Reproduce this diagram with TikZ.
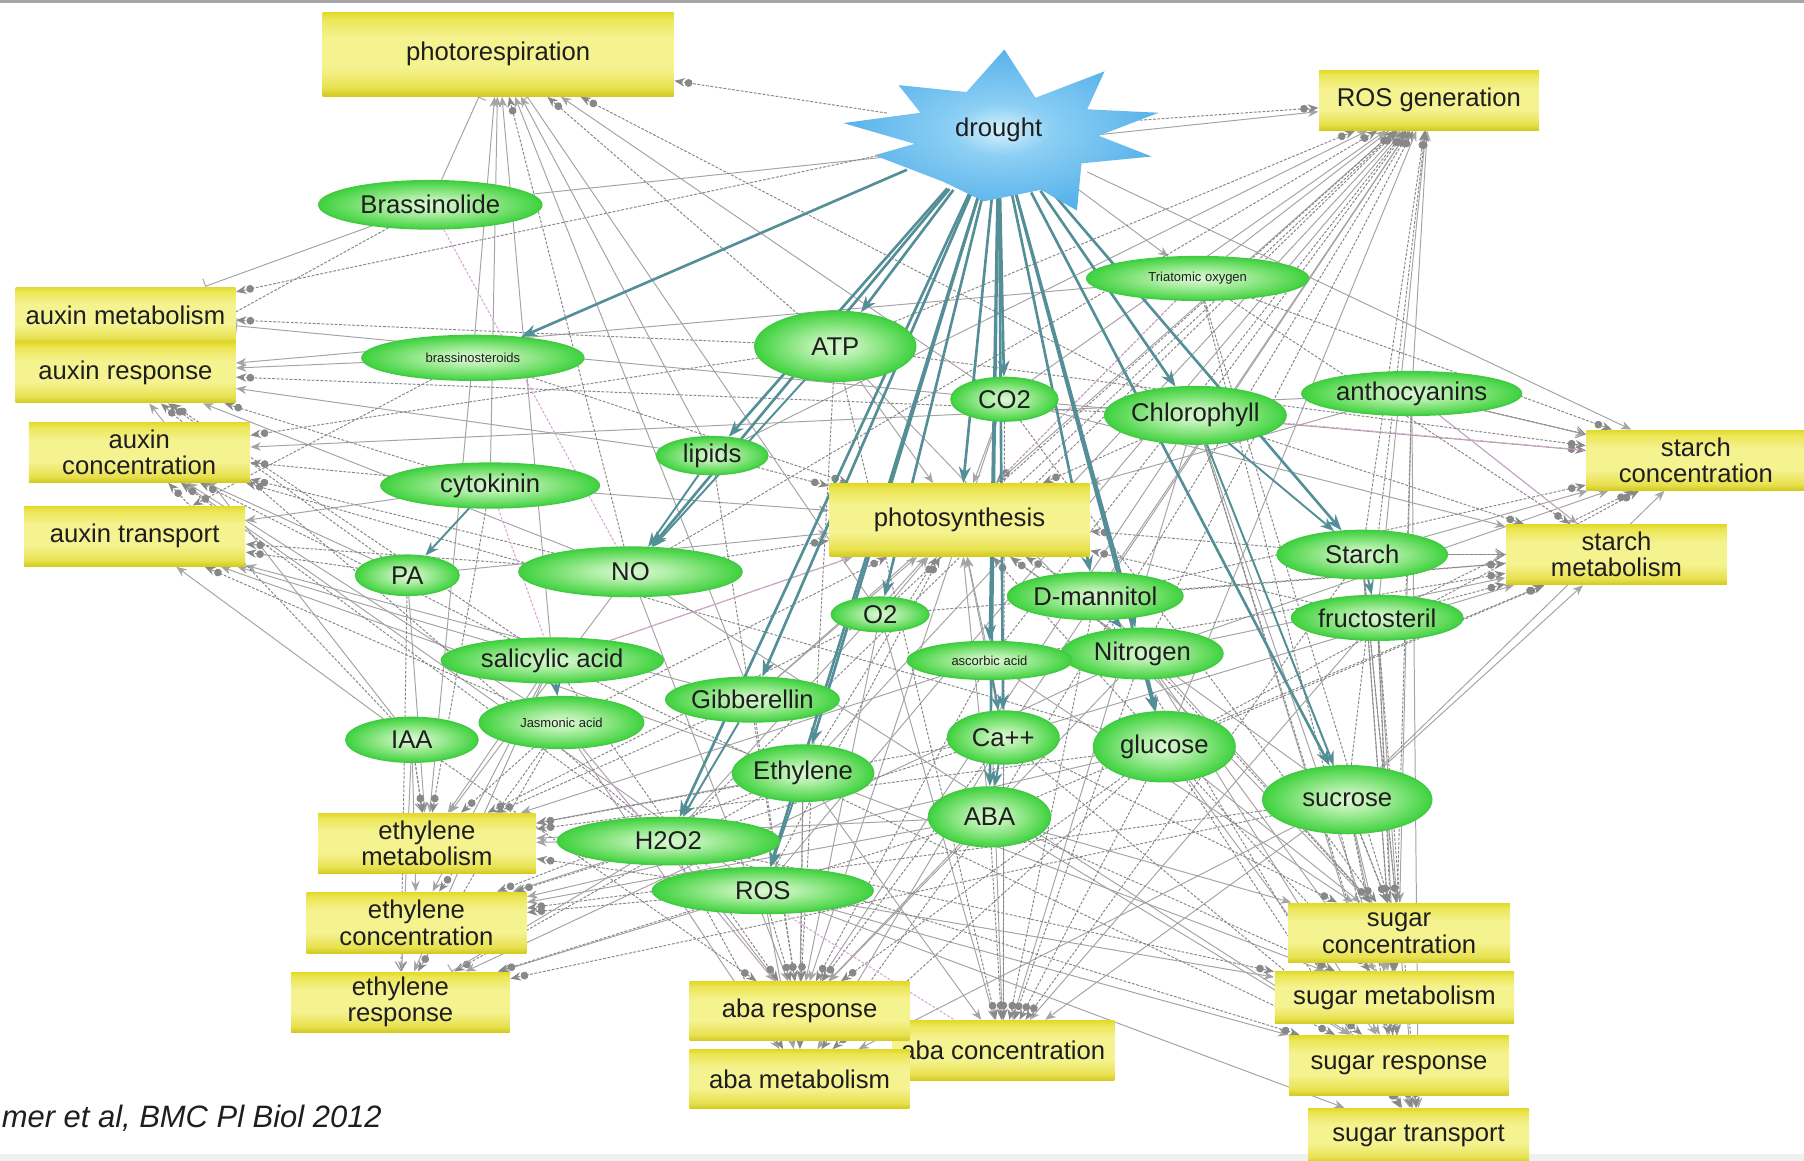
\documentclass[tikz,border=0pt]{standalone}
\usepackage{fontspec}
\setmainfont{Liberation Sans}
\usetikzlibrary{shapes.geometric,arrows.meta,backgrounds}

\definecolor{yT}{HTML}{E2DA2A}
\definecolor{yT2}{HTML}{ECE656}
\definecolor{yM}{HTML}{F5F290}
\definecolor{yB2}{HTML}{E8E150}
\definecolor{yB}{HTML}{D2CA20}
\pgfdeclareverticalshading{yshade}{100bp}{color(0bp)=(yB); color(25bp)=(yB); color(30bp)=(yB2); color(42bp)=(yM); color(60bp)=(yM); color(71bp)=(yT2); color(75bp)=(yT); color(100bp)=(yT)}

\definecolor{gIn}{HTML}{DDF8D6}
\definecolor{gIM}{HTML}{B4F0AC}
\definecolor{gMid}{HTML}{7EE276}
\definecolor{gOut}{HTML}{3ED23E}
\definecolor{gEdge}{HTML}{45C845}
\pgfdeclareradialshading{gshade}{\pgfpoint{0bp}{0bp}}{color(0bp)=(gIn); color(8bp)=(gIM); color(16bp)=(gMid); color(25bp)=(gOut); color(50bp)=(gOut)}

\definecolor{bIn}{HTML}{D6F2FC}
\definecolor{bMid}{HTML}{8CCFF4}
\definecolor{bOut}{HTML}{58B2EA}
\pgfdeclareradialshading{bshade}{\pgfpoint{0bp}{0bp}}{color(0bp)=(bIn); color(8bp)=(bMid); color(25bp)=(bOut); color(50bp)=(bOut)}

\definecolor{txt}{HTML}{1E1E1E}
\definecolor{teal1}{HTML}{548F98}
\definecolor{grayE}{HTML}{888888}
\definecolor{grayS}{HTML}{A4A4A4}
\definecolor{pinkE}{HTML}{D9A6D6}

\tikzset{
  ybox/.style 2 args={rectangle, shade, shading=yshade, minimum width=#1*0.011505cm,
     minimum height=#2*0.011505cm, inner sep=0pt, align=center,
     font=\fontsize{7.3}{7.5}\selectfont, text=txt},
  ell/.style 2 args={ellipse, shade, shading=gshade, draw=gEdge, line width=0.4pt,
     minimum width=#1*0.011505cm, minimum height=#2*0.011505cm, inner sep=0pt,
     font=\fontsize{7.3}{8}\selectfont, text=txt},
  tinytxt/.style={font=\fontsize{3.7}{4}\selectfont},
  gdot/.style={draw=grayE, line width=0.28pt, dash pattern=on 0.8pt off 0.45pt},
  gsol/.style={draw=grayS, line width=0.28pt},
  ea/.style={gsol, -{Stealth[length=3pt,width=2.4pt]}},
  eb/.style={gdot, -{Circle[length=2.2pt] Stealth[length=3pt,width=2.4pt]}},
  ec/.style={gsol, -{Bar[width=4.5pt]}},
  ed/.style={gdot, -{Straight Barb[length=2.5pt,width=3.2pt]}},
  pe/.style={draw=pinkE, line width=0.3pt, dash pattern=on 0.8pt off 0.45pt},
  te/.style={draw=teal1, line width=0.75pt, -{Stealth[length=4.6pt,width=3.4pt]}},
  tt/.style={draw=teal1, line width=0.55pt, -{Stealth[length=4pt,width=3pt]}},
}

\begin{document}
\begin{tikzpicture}[x=0.011505cm, y=-0.011505cm]
\useasboundingbox (0,0) rectangle (1568,1009);
\fill[black!6] (0,1003) rectangle (1568,1009);
\fill[black!35] (0,0) rectangle (1568,2.5);

% ---------- drought star ----------
\shade[shading=bshade] (873,43) -- (900,85) -- (960,62) -- (945,95) -- (1007,98)
  -- (955,118) -- (1001,136) -- (940,142) -- (936,183) -- (905,165) -- (855,175)
  -- (820,158) -- (760,135) -- (795,125) -- (733,107) -- (800,98) -- (781,74)
  -- (840,80) -- cycle;
\node[ellipse, minimum width=200*0.011505cm, minimum height=112*0.011505cm,
      inner sep=0pt, font=\fontsize{7.3}{8}\selectfont, text=txt] (dr) at (868,113) {drought};

% ---------- yellow boxes ----------
\node[ybox={305}{73}] (phr) at (433,47) {photorespiration};
\node[ybox={191}{52}] (rosg) at (1242,87) {ROS generation};
\node[ybox={191}{49}] (axm) at (109,274) {auxin metabolism};
\node[ybox={191}{52}] (axr) at (109,324) {auxin response};
\node[ybox={192}{52}] (axc) at (121,393) {auxin\\concentration};
\node[ybox={192}{52}] (axt) at (117,466) {auxin transport};
\node[ybox={226}{63}] (phs) at (834,452) {photosynthesis};
\node[ybox={190}{52}] (stc) at (1474,400) {starch\\concentration};
\node[ybox={192}{52}] (stm) at (1405,482) {starch\\metabolism};
\node[ybox={189}{52}] (etm) at (371,733) {ethylene\\metabolism};
\node[ybox={191}{53}] (etc) at (362,802) {ethylene\\concentration};
\node[ybox={190}{52}] (etr) at (348,871) {ethylene\\response};
\node[ybox={193}{52}] (abc) at (872,913) {aba concentration};
\node[ybox={191}{51}] (abr) at (695,879) {aba response};
\node[ybox={191}{51}] (abm) at (695,938) {aba metabolism};
\node[ybox={193}{52}] (sgc) at (1216,811) {sugar\\concentration};
\node[ybox={208}{45}] (sgm) at (1212,867) {sugar metabolism};
\node[ybox={191}{52}] (sgr) at (1216,926) {sugar response};
\node[ybox={192}{47}] (sgt) at (1233,987) {sugar transport};

% ---------- green ellipses ----------
\node[ell={194}{42}] (brl) at (374,178) {Brassinolide};
\node[ell={193}{39}, tinytxt] (brs) at (411,311) {brassinosteroids};
\node[ell={190}{39}] (cyt) at (426,422) {cytokinin};
\node[ell={90}{35}] (pa) at (354,500) {PA};
\node[ell={194}{43}] (no) at (548,497) {NO};
\node[ell={97}{33}] (lip) at (619,396) {lipids};
\node[ell={140}{61}] (atp) at (726,301) {ATP};
\node[ell={93}{38}] (co2) at (873,347) {CO2};
\node[ell={150}{50}] (chl) at (1039,361) {Chlorophyll};
\node[ell={193}{38}, tinytxt] (tri) at (1041,242) {Triatomic oxygen};
\node[ell={191}{38}] (ant) at (1227,342) {anthocyanins};
\node[ell={148}{42}] (sta) at (1184,482) {Starch};
\node[ell={149}{39}] (fru) at (1197,537) {fructosteril};
\node[ell={147}{41}] (dman) at (952,518) {D-mannitol};
\node[ell={140}{44}] (nit) at (993,568) {Nitrogen};
\node[ell={85}{30}] (oo) at (765,534) {O2};
\node[ell={143}{33}, tinytxt] (asc) at (860,574) {ascorbic acid};
\node[ell={193}{39}] (sal) at (480,574) {salicylic acid};
\node[ell={143}{45}, tinytxt] (jas) at (488,628) {Jasmonic acid};
\node[ell={144}{39}] (gib) at (654,608) {Gibberellin};
\node[ell={115}{39}] (iaa) at (358,643) {IAA};
\node[ell={120}{49}] (eth) at (698,672) {Ethylene};
\node[ell={97}{46}] (ca) at (872,641) {Ca++};
\node[ell={123}{61}] (glu) at (1012,649) {glucose};
\node[ell={106}{52}] (aba) at (860,710) {ABA};
\node[ell={147}{59}] (suc) at (1171,695) {sucrose};
\node[ell={193}{41}] (hho) at (581,731) {H2O2};
\node[ell={192}{40}] (ros) at (663,774) {ROS};

% ---------- caption ----------
\node[anchor=base west, inner sep=0pt, font=\itshape\fontsize{8.8}{10}\selectfont, text=txt]
  (cap) at (1,980) {mer et al, BMC Pl Biol 2012};

% ---------- connectors ----------
\begin{scope}[on background layer]
\foreach \a/\b in {brs/phr, cyt/phr, lip/phr, co2/phr, sal/phr, gib/phr,
  tri/rosg, ant/rosg, co2/rosg, fru/rosg, glu/rosg, dman/rosg, ca/rosg, eth/rosg,
  ros/rosg, lip/rosg, brl/rosg, gib/rosg,
  brs/axr, no/axr, iaa/axr, lip/axr, tri/axr,
  pa/axc, jas/axc, ros/axc, ant/axc,
  iaa/axt, sal/axt, cyt/axt, eth/axt, gib/axt,
  co2/phs, atp/phs, oo/phs, asc/phs, ca/phs, aba/phs, gib/phs, sal/phs, hho/phs,
  suc/phs, ant/phs, cyt/phs, pa/phs,
  ant/stc, sta/stc, co2/stc, nit/stc, suc/stc, dr/stc,
  sta/stm, suc/stm, ant/stm, nit/stm, ca/stm, co2/stm,
  eth/etm, sal/etm, hho/etm, pa/etm, no/etm, aba/etm, asc/etm, brs/etm,
  iaa/etc, hho/etc, sal/etc, glu/etc, aba/etc,
  iaa/etr, sal/etr, ros/etr, nit/etr,
  aba/abr, hho/abr, eth/abr, no/abr, jas/abr, nit/abr, oo/abr, chl/abr, co2/abr,
  ca/abm, ros/abm, jas/abm, suc/abm,
  ca/abc, suc/abc, asc/abc, chl/abc, oo/abc, eth/abc, fru/abc,
  glu/sgc, fru/sgc, dman/sgc, ant/sgc, aba/sgc, asc/sgc, atp/sgc,
  suc/sgm, sta/sgm, nit/sgm, chl/sgm, eth/sgm, ros/sgm,
  glu/sgr, fru/sgr, nit/sgr, ros/sgr, aba/sgr, no/sgr,
  suc/sgt, sta/sgt, chl/sgt, ant/sgt, ros/sgt, dr/tri}
  \draw[ea] (\a) -- (\b);
\foreach \a/\b in {atp/phr, no/phr, chl/phr, dr/phr,
  dr/rosg, chl/rosg, atp/rosg, sta/rosg, suc/rosg, nit/rosg, asc/rosg, aba/rosg,
  hho/rosg, oo/rosg, no/rosg, phs/rosg,
  dr/axm, atp/axm,
  cyt/axr, sal/axr, pa/axr, hho/axr, chl/axr,
  iaa/axc, cyt/axc, sal/axc, no/axc, hho/axc, atp/axc, glu/axc,
  pa/axt, jas/axt, no/axt, brs/axt,
  chl/phs, lip/phs, dman/phs, nit/phs, glu/phs, eth/phs, no/phs, ros/phs, sta/phs,
  fru/phs, tri/phs, brs/phs, jas/phs,
  tri/stc, chl/stc, fru/stc, atp/stc, dman/stc, glu/stc,
  fru/stm, glu/stm, chl/stm, dman/stm, aba/stm, tri/stm, asc/stm, oo/stm,
  iaa/etm, jas/etm, ros/etm, cyt/etm, gib/etm, ca/etm, glu/etm, oo/etm,
  eth/etc, jas/etc, ros/etc, suc/etc, ca/etc,
  eth/etr, jas/etr, suc/etr, aba/etr,
  ca/abr, ros/abr, gib/abr, sal/abr, glu/abr, asc/abr, iaa/abr, atp/abr, lip/abr,
  aba/abm, hho/abm, eth/abm, glu/abm,
  aba/abc, glu/abc, nit/abc, dman/abc, co2/abc, atp/abc, sta/abc,
  suc/sgc, sta/sgc, nit/sgc, chl/sgc, tri/sgc, ca/sgc, co2/sgc,
  glu/sgm, fru/sgm, ant/sgm, aba/sgm, hho/sgm,
  suc/sgr, sta/sgr, chl/sgr, hho/sgr, ca/sgr, sal/sgr,
  glu/sgt, fru/sgt, tri/sgt, dman/sgt}
  \draw[eb] (\a) -- (\b);
\foreach \a/\b in {brl/phr, co2/axm, hho/etr, oo/phr, brl/axm}
  \draw[ec] (\a) -- (\b);
\foreach \a/\b in {iaa/etm, pa/etr, ant/stc, sta/stm, brl/axr}
  \draw[ed] (\a) -- (\b);
\foreach \a/\b in {tri/phs, ant/stm, chl/stc, hho/abc, sal/phs, jas/abr, brl/no, cyt/sal}
  \draw[pe] (\a) -- (\b);
\foreach \b in {brs, lip, no, atp, co2, chl, phs, oo, gib, hho, ros, eth, asc, ca,
  aba, dman, nit, glu, suc, sta}
  \draw[te] (dr) -- (\b);
\foreach \a/\b in {cyt/pa, ca/aba, asc/ca, nit/glu, chl/sta, sta/fru, chl/suc,
  sal/jas, gib/hho, eth/ros, lip/no, atp/no, dman/nit}
  \draw[tt] (\a) -- (\b);
\end{scope}
\end{tikzpicture}
\end{document}
